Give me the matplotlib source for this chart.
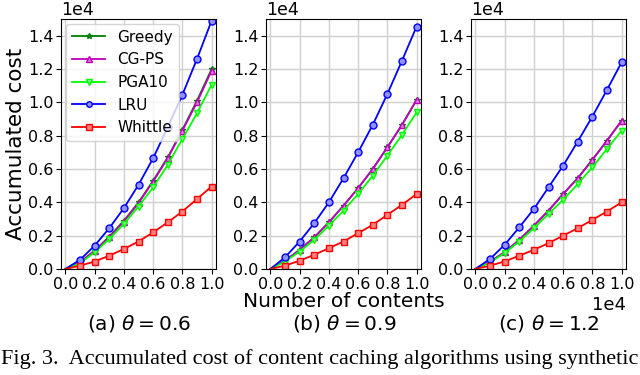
import numpy as np
import matplotlib.pyplot as plt

x = np.arange(0, 11) * 1000.0

theta_labels = ['(a) $\\theta = 0.6$', '(b) $\\theta = 0.9$', '(c) $\\theta = 1.2$']

# accumulated cost in units of 1e4, one row per theta
greedy = [
    [0, 0.04, 0.11, 0.195, 0.29, 0.40, 0.53, 0.67, 0.835, 1.01, 1.20],
    [0, 0.05, 0.115, 0.19, 0.28, 0.38, 0.485, 0.60, 0.73, 0.865, 1.015],
    [0, 0.045, 0.10, 0.175, 0.26, 0.35, 0.45, 0.545, 0.655, 0.77, 0.89],
]
cgps = [
    [0, 0.04, 0.11, 0.19, 0.285, 0.395, 0.525, 0.665, 0.83, 1.0, 1.19],
    [0, 0.05, 0.115, 0.19, 0.28, 0.38, 0.485, 0.60, 0.73, 0.865, 1.015],
    [0, 0.045, 0.10, 0.175, 0.26, 0.35, 0.45, 0.545, 0.655, 0.77, 0.89],
]
pga10 = [
    [0, 0.035, 0.10, 0.18, 0.27, 0.375, 0.49, 0.625, 0.78, 0.935, 1.105],
    [0, 0.045, 0.105, 0.175, 0.26, 0.35, 0.45, 0.56, 0.68, 0.805, 0.94],
    [0, 0.04, 0.095, 0.165, 0.245, 0.33, 0.415, 0.51, 0.61, 0.72, 0.83],
]
lru = [
    [0, 0.055, 0.14, 0.245, 0.365, 0.505, 0.665, 0.85, 1.045, 1.26, 1.49],
    [0, 0.07, 0.165, 0.275, 0.40, 0.545, 0.70, 0.865, 1.05, 1.25, 1.455],
    [0, 0.06, 0.145, 0.25, 0.36, 0.49, 0.62, 0.765, 0.915, 1.075, 1.24],
]
whittle = [
    [0, 0.02, 0.045, 0.08, 0.12, 0.165, 0.22, 0.28, 0.345, 0.42, 0.495],
    [0, 0.02, 0.05, 0.085, 0.125, 0.165, 0.215, 0.265, 0.325, 0.385, 0.45],
    [0, 0.02, 0.045, 0.08, 0.115, 0.155, 0.2, 0.245, 0.295, 0.345, 0.40],
]

series = [
    ('Greedy', greedy, 'g', '*', '#2a9a2a'),
    ('CG-PS', cgps, 'm', '^', '#e080e0'),
    ('PGA10', pga10, '#00ff00', 'v', '#80ff80'),
    ('LRU', lru, 'b', 'o', '#9090ff'),
    ('Whittle', whittle, 'r', 's', '#ff8080'),
]

fig = plt.figure(figsize=(6.4, 3.75), dpi=100)
lefts = [61, 266, 471]
for i in range(3):
    ax = fig.add_axes([lefts[i] / 640, 1 - 269 / 375, 155 / 640, 250 / 375])
    for name, data, c, m, mfc in series:
        ax.plot(x, np.array(data[i]) * 1e4, color=c, marker=m, ms=5, mfc=mfc,
                markevery=list(range(1, 11)), lw=1.3, label=name)
    ax.set_xlim(-300, 10300)
    ax.set_ylim(0, 15000)
    ax.set_xticks(np.arange(0, 11000, 2000))
    ax.set_yticks(np.arange(0, 15000, 2000))
    ax.ticklabel_format(style='sci', scilimits=(0, 0))
    ax.grid(True, color='#d0d0d0', lw=1)
    ax.tick_params(labelsize=11.5, pad=2)
    ax.yaxis.get_offset_text().set_fontsize(12.5)
    ax.xaxis.get_offset_text().set_fontsize(13)
    if i < 2:
        ax.xaxis.get_offset_text().set_visible(False)
    if i == 0:
        ax.set_ylabel('Accumulated cost', fontsize=15.5, labelpad=1)
        ax.legend(loc='upper left', fontsize=11, handlelength=2.2,
                  markerscale=0.8, borderaxespad=0.3)
    if i == 1:
        ax.set_xlabel('Number of contents', fontsize=14.5, labelpad=0)
    fig.text((lefts[i] + 78) / 640, 1 - 324 / 375, theta_labels[i], fontsize=14.5,
             ha='center', va='center')

fig.text(0.5, 1 - 359 / 375,
         'Fig. 3.  Accumulated cost of content caching algorithms using synthetic',
         fontsize=16, family='Liberation Serif', ha='center', va='center')

plt.savefig('out.png')
